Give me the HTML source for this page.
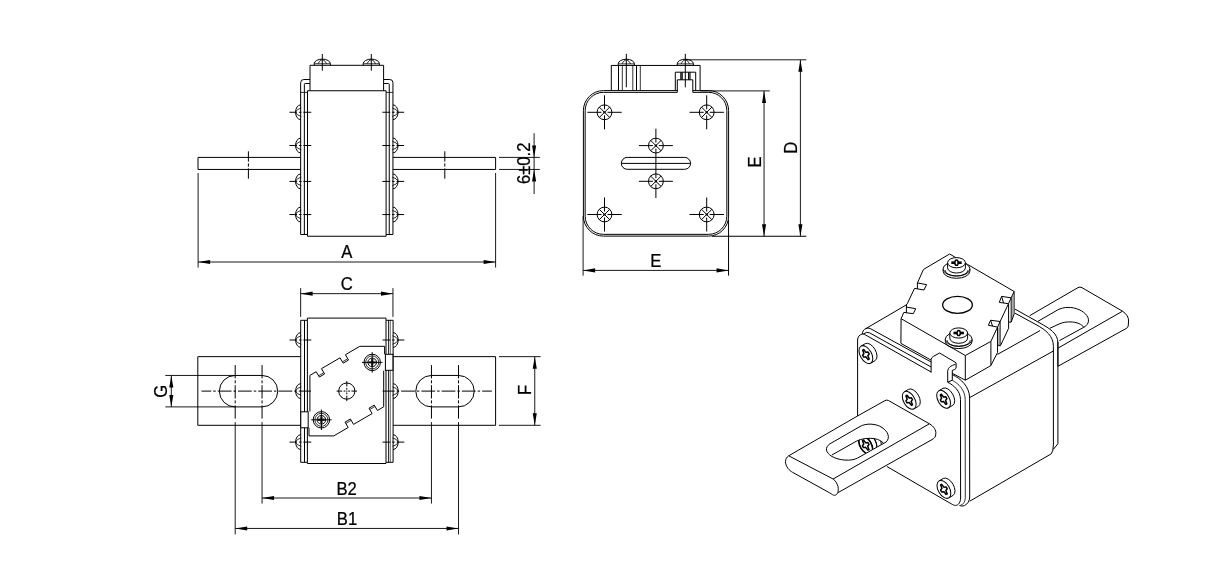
<!DOCTYPE html>
<html lang="en">
<head>
<meta charset="utf-8">
<title>Fuse dimension drawing</title>
<style>
html,body{margin:0;padding:0;background:#fff;}
body{width:1219px;height:568px;overflow:hidden;}
svg{display:block;filter:grayscale(1);}
svg text{font-family:"Liberation Sans",sans-serif;font-size:17.7px;fill:#000;stroke:#000;stroke-width:0.25px;}
.o{fill:none;stroke:#000;stroke-width:1;}
.d{fill:none;stroke:#000;stroke-width:0.9;}
.c{fill:none;stroke:#000;stroke-width:0.8;}
.w{fill:#fff;stroke:#000;stroke-width:1;}
.a{fill:#000;stroke:none;}
</style>
</head>
<body>
<svg width="1219" height="568" viewBox="0 0 1219 568">
<rect x="0" y="0" width="1219" height="568" fill="#fff"/>
<g>
<path class="o" d="M300.65 157.4 L198 157.4 L198 169.45 L300.65 169.45"/>
<path class="o" d="M392.95 157.4 L495.6 157.4 L495.6 169.45 L392.95 169.45"/>
<line class="o" x1="248.4" y1="151.3" x2="248.4" y2="161.6"/>
<line class="o" x1="248.4" y1="163.4" x2="248.4" y2="166.6"/>
<line class="o" x1="248.4" y1="168.4" x2="248.4" y2="178.7"/>
<line class="o" x1="444.8" y1="151.3" x2="444.8" y2="161.6"/>
<line class="o" x1="444.8" y1="163.4" x2="444.8" y2="166.6"/>
<line class="o" x1="444.8" y1="168.4" x2="444.8" y2="178.7"/>
<path class="o" d="M307.5 90.75 L307.5 236.25 L386.1 236.25 L386.1 90.75"/>
<path class="o" d="M310 79.5 L303.85 79.5 A3.2 3.2 0 0 0 300.65 82.7 L300.65 234.5 L307.5 234.5"/>
<path class="o" d="M310 83.5 L305.15 83.5 Q304.35 83.5 304.35 84.3 L304.35 234.5"/>
<line class="c" x1="300.65" y1="92.4" x2="307.5" y2="92.4"/>
<path class="o" d="M383.6 79.5 L389.75 79.5 A3.2 3.2 0 0 1 392.95 82.7 L392.95 234.5 L386.1 234.5"/>
<path class="o" d="M383.6 83.5 L388.45 83.5 Q389.25 83.5 389.25 84.3 L389.25 234.5"/>
<line class="c" x1="392.95" y1="92.4" x2="386.1" y2="92.4"/>
<path class="o" d="M310 90.75 L310 65.3 L383.6 65.3 L383.6 90.75"/>
<line class="o" x1="307.5" y1="90.75" x2="386.1" y2="90.75" style="stroke-width:1.1"/>
<path class="o" d="M314.2 65.3 L314.2 63.75 A8.1 4.65 0 0 1 330.4 63.75 L330.4 65.3"/>
<line class="c" x1="314.2" y1="63.75" x2="330.4" y2="63.75"/>
<path class="c" d="M322.3 59.5 Q319.1 60.7 318 63.75"/>
<path class="c" d="M322.3 59.5 Q325.5 60.7 326.6 63.75"/>
<line class="o" x1="322.3" y1="54" x2="322.3" y2="70.7"/>
<path class="o" d="M363.2 65.3 L363.2 63.75 A8.1 4.65 0 0 1 379.4 63.75 L379.4 65.3"/>
<line class="c" x1="363.2" y1="63.75" x2="379.4" y2="63.75"/>
<path class="c" d="M371.3 59.5 Q368.1 60.7 367 63.75"/>
<path class="c" d="M371.3 59.5 Q374.5 60.7 375.6 63.75"/>
<line class="o" x1="371.3" y1="54" x2="371.3" y2="70.7"/>
<path class="o" d="M300.65 104.85 A5.1 7.4 0 0 0 300.65 119.65"/>
<path class="c" d="M295.35 112.25 Q296.85 109.05 301.25 108.05"/>
<path class="c" d="M295.35 112.25 Q296.85 115.45 301.25 116.45"/>
<line class="o" x1="289.45" y1="112.25" x2="297.05" y2="112.25"/>
<line class="o" x1="299.05" y1="112.25" x2="301.55" y2="112.25"/>
<line class="o" x1="303.35" y1="112.25" x2="311.25" y2="112.25"/>
<path class="o" d="M392.95 104.85 A5.1 7.4 0 0 1 392.95 119.65"/>
<path class="c" d="M398.25 112.25 Q396.75 109.05 392.35 108.05"/>
<path class="c" d="M398.25 112.25 Q396.75 115.45 392.35 116.45"/>
<line class="o" x1="404.15" y1="112.25" x2="396.55" y2="112.25"/>
<line class="o" x1="394.55" y1="112.25" x2="392.05" y2="112.25"/>
<line class="o" x1="390.25" y1="112.25" x2="382.35" y2="112.25"/>
<path class="o" d="M300.65 138.1 A5.1 7.4 0 0 0 300.65 152.9"/>
<path class="c" d="M295.35 145.5 Q296.85 142.3 301.25 141.3"/>
<path class="c" d="M295.35 145.5 Q296.85 148.7 301.25 149.7"/>
<line class="o" x1="289.45" y1="145.5" x2="297.05" y2="145.5"/>
<line class="o" x1="299.05" y1="145.5" x2="301.55" y2="145.5"/>
<line class="o" x1="303.35" y1="145.5" x2="311.25" y2="145.5"/>
<path class="o" d="M392.95 138.1 A5.1 7.4 0 0 1 392.95 152.9"/>
<path class="c" d="M398.25 145.5 Q396.75 142.3 392.35 141.3"/>
<path class="c" d="M398.25 145.5 Q396.75 148.7 392.35 149.7"/>
<line class="o" x1="404.15" y1="145.5" x2="396.55" y2="145.5"/>
<line class="o" x1="394.55" y1="145.5" x2="392.05" y2="145.5"/>
<line class="o" x1="390.25" y1="145.5" x2="382.35" y2="145.5"/>
<path class="o" d="M300.65 174 A5.1 7.4 0 0 0 300.65 188.8"/>
<path class="c" d="M295.35 181.4 Q296.85 178.2 301.25 177.2"/>
<path class="c" d="M295.35 181.4 Q296.85 184.6 301.25 185.6"/>
<line class="o" x1="289.45" y1="181.4" x2="297.05" y2="181.4"/>
<line class="o" x1="299.05" y1="181.4" x2="301.55" y2="181.4"/>
<line class="o" x1="303.35" y1="181.4" x2="311.25" y2="181.4"/>
<path class="o" d="M392.95 174 A5.1 7.4 0 0 1 392.95 188.8"/>
<path class="c" d="M398.25 181.4 Q396.75 178.2 392.35 177.2"/>
<path class="c" d="M398.25 181.4 Q396.75 184.6 392.35 185.6"/>
<line class="o" x1="404.15" y1="181.4" x2="396.55" y2="181.4"/>
<line class="o" x1="394.55" y1="181.4" x2="392.05" y2="181.4"/>
<line class="o" x1="390.25" y1="181.4" x2="382.35" y2="181.4"/>
<path class="o" d="M300.65 207.15 A5.1 7.4 0 0 0 300.65 221.95"/>
<path class="c" d="M295.35 214.55 Q296.85 211.35 301.25 210.35"/>
<path class="c" d="M295.35 214.55 Q296.85 217.75 301.25 218.75"/>
<line class="o" x1="289.45" y1="214.55" x2="297.05" y2="214.55"/>
<line class="o" x1="299.05" y1="214.55" x2="301.55" y2="214.55"/>
<line class="o" x1="303.35" y1="214.55" x2="311.25" y2="214.55"/>
<path class="o" d="M392.95 207.15 A5.1 7.4 0 0 1 392.95 221.95"/>
<path class="c" d="M398.25 214.55 Q396.75 211.35 392.35 210.35"/>
<path class="c" d="M398.25 214.55 Q396.75 217.75 392.35 218.75"/>
<line class="o" x1="404.15" y1="214.55" x2="396.55" y2="214.55"/>
<line class="o" x1="394.55" y1="214.55" x2="392.05" y2="214.55"/>
<line class="o" x1="390.25" y1="214.55" x2="382.35" y2="214.55"/>
<line class="d" x1="198.1" y1="173" x2="198.1" y2="267.6"/>
<line class="d" x1="495.6" y1="173" x2="495.6" y2="267.6"/>
<line class="d" x1="198.1" y1="262" x2="495.6" y2="262"/><polygon class="a" points="198.1,262 210.1,259.95 210.1,264.05"/><polygon class="a" points="495.6,262 483.6,264.05 483.6,259.95"/>
<text x="0" y="0" text-anchor="middle" transform="translate(346.8 258.3) scale(0.94 1)">A</text>
<line class="d" x1="499" y1="157.4" x2="539.8" y2="157.4"/>
<line class="d" x1="499" y1="169.45" x2="539.8" y2="169.45"/>
<line class="d" x1="534.1" y1="133.2" x2="534.1" y2="194"/>
<polygon class="a" points="534.1,157.4 532.05,145.4 536.15,145.4"/>
<polygon class="a" points="534.1,169.45 536.15,181.45 532.05,181.45"/>
<text x="0" y="0" text-anchor="middle" transform="translate(530 163.3) rotate(-90) scale(0.94 1)">6±0.2</text>
</g>
<g>
<path class="o" d="M692.8 90.6 L708.6 90.6 A20 20 0 0 1 728.6 110.6 L728.6 216.1 A20 20 0 0 1 708.6 236.1 L603.4 236.1 A20 20 0 0 1 583.4 216.1 L583.4 110.6 A20 20 0 0 1 603.4 90.6 L677.3 90.6"/>
<path class="o" d="M692.8 92.35 L708.6 92.35 A18.25 18.25 0 0 1 726.85 110.6 L726.85 216.1 A18.25 18.25 0 0 1 708.6 234.35 L603.4 234.35 A18.25 18.25 0 0 1 585.15 216.1 L585.15 110.6 A18.25 18.25 0 0 1 603.4 92.35 L677.3 92.35"/>
<path class="o" d="M611.3 90.6 L611.3 65.45 L700.1 65.45 L700.1 90.6"/>
<line class="o" x1="618.5" y1="65.45" x2="618.5" y2="90.6"/>
<line class="c" x1="622.3" y1="65.45" x2="622.3" y2="90.6"/>
<line class="c" x1="632.8" y1="65.45" x2="632.8" y2="90.6"/>
<line class="o" x1="636.5" y1="65.45" x2="636.5" y2="90.6"/>
<line class="c" x1="640.3" y1="65.45" x2="640.3" y2="90.6"/>
<path class="o" d="M675.3 90.6 L675.3 72.2 L695.7 72.2 L695.7 90.6"/>
<path class="o" d="M677.3 92.35 L677.3 79.8 L692.8 79.8 L692.8 92.35"/>
<line class="o" x1="682" y1="72.2" x2="682" y2="79.8" style="stroke-width:1.5"/>
<line class="o" x1="688.8" y1="72.2" x2="688.8" y2="79.8" style="stroke-width:1.5"/>
<line class="c" x1="680.6" y1="72.2" x2="680.6" y2="79.8"/>
<line class="c" x1="690.2" y1="72.2" x2="690.2" y2="79.8"/>
<path class="o" d="M618.2 65.45 L618.2 63.9 A8.1 4.7 0 0 1 634.4 63.9 L634.4 65.45"/>
<line class="c" x1="618.2" y1="63.9" x2="634.4" y2="63.9"/>
<path class="c" d="M626.3 59.6 Q623.1 60.8 622 63.9"/>
<path class="c" d="M626.3 59.6 Q629.5 60.8 630.6 63.9"/>
<line class="o" x1="626.3" y1="53.8" x2="626.3" y2="87.3"/>
<path class="o" d="M677.2 65.45 L677.2 63.9 A8.1 4.7 0 0 1 693.4 63.9 L693.4 65.45"/>
<line class="c" x1="677.2" y1="63.9" x2="693.4" y2="63.9"/>
<path class="c" d="M685.3 59.6 Q682.1 60.8 681 63.9"/>
<path class="c" d="M685.3 59.6 Q688.5 60.8 689.6 63.9"/>
<line class="o" x1="685.3" y1="53.8" x2="685.3" y2="87.3"/>
<circle class="o" cx="604.5" cy="112.3" r="7.4"/>
<line class="o" x1="599.27" y1="107.07" x2="609.73" y2="117.53"/>
<line class="o" x1="599.27" y1="117.53" x2="609.73" y2="107.07"/>
<line class="o" x1="587.3" y1="112.3" x2="601.5" y2="112.3"/>
<line class="o" x1="607.5" y1="112.3" x2="621.7" y2="112.3"/>
<line class="o" x1="604.5" y1="95.3" x2="604.5" y2="109.3"/>
<line class="o" x1="604.5" y1="115.3" x2="604.5" y2="129.3"/>
<line class="o" x1="603.4" y1="112.3" x2="605.6" y2="112.3" style="stroke-width:2"/>
<circle class="o" cx="604.5" cy="214.5" r="7.4"/>
<line class="o" x1="599.27" y1="209.27" x2="609.73" y2="219.73"/>
<line class="o" x1="599.27" y1="219.73" x2="609.73" y2="209.27"/>
<line class="o" x1="587.3" y1="214.5" x2="601.5" y2="214.5"/>
<line class="o" x1="607.5" y1="214.5" x2="621.7" y2="214.5"/>
<line class="o" x1="604.5" y1="197.5" x2="604.5" y2="211.5"/>
<line class="o" x1="604.5" y1="217.5" x2="604.5" y2="231.5"/>
<line class="o" x1="603.4" y1="214.5" x2="605.6" y2="214.5" style="stroke-width:2"/>
<circle class="o" cx="706.7" cy="112.3" r="7.4"/>
<line class="o" x1="701.47" y1="107.07" x2="711.93" y2="117.53"/>
<line class="o" x1="701.47" y1="117.53" x2="711.93" y2="107.07"/>
<line class="o" x1="689.5" y1="112.3" x2="703.7" y2="112.3"/>
<line class="o" x1="709.7" y1="112.3" x2="723.9" y2="112.3"/>
<line class="o" x1="706.7" y1="95.3" x2="706.7" y2="109.3"/>
<line class="o" x1="706.7" y1="115.3" x2="706.7" y2="129.3"/>
<line class="o" x1="705.6" y1="112.3" x2="707.8" y2="112.3" style="stroke-width:2"/>
<circle class="o" cx="706.7" cy="214.5" r="7.4"/>
<line class="o" x1="701.47" y1="209.27" x2="711.93" y2="219.73"/>
<line class="o" x1="701.47" y1="219.73" x2="711.93" y2="209.27"/>
<line class="o" x1="689.5" y1="214.5" x2="703.7" y2="214.5"/>
<line class="o" x1="709.7" y1="214.5" x2="723.9" y2="214.5"/>
<line class="o" x1="706.7" y1="197.5" x2="706.7" y2="211.5"/>
<line class="o" x1="706.7" y1="217.5" x2="706.7" y2="231.5"/>
<line class="o" x1="705.6" y1="214.5" x2="707.8" y2="214.5" style="stroke-width:2"/>
<circle class="o" cx="655.9" cy="145.6" r="7.4"/>
<line class="o" x1="650.67" y1="140.37" x2="661.13" y2="150.83"/>
<line class="o" x1="650.67" y1="150.83" x2="661.13" y2="140.37"/>
<line class="o" x1="638.9" y1="145.6" x2="652.9" y2="145.6"/>
<line class="o" x1="658.9" y1="145.6" x2="672.9" y2="145.6"/>
<line class="o" x1="654.8" y1="145.6" x2="657" y2="145.6" style="stroke-width:2"/>
<circle class="o" cx="655.9" cy="181.3" r="7.4"/>
<line class="o" x1="650.67" y1="176.07" x2="661.13" y2="186.53"/>
<line class="o" x1="650.67" y1="186.53" x2="661.13" y2="176.07"/>
<line class="o" x1="638.9" y1="181.3" x2="652.9" y2="181.3"/>
<line class="o" x1="658.9" y1="181.3" x2="672.9" y2="181.3"/>
<line class="o" x1="654.8" y1="181.3" x2="657" y2="181.3" style="stroke-width:2"/>
<line class="o" x1="655.9" y1="128.7" x2="655.9" y2="142.6"/>
<line class="o" x1="655.9" y1="148.6" x2="655.9" y2="178.3"/>
<line class="o" x1="655.9" y1="184.3" x2="655.9" y2="198"/>
<rect class="o" x="621.3" y="157.4" width="69.3" height="11.9" rx="5.95"/>
<line class="o" x1="621.3" y1="163.4" x2="690.6" y2="163.4"/>
<line class="d" x1="686" y1="59.8" x2="806.3" y2="59.8"/>
<line class="d" x1="700.1" y1="90.9" x2="769.8" y2="90.9"/>
<line class="o" x1="712" y1="236.25" x2="806.3" y2="236.25"/>
<line class="d" x1="764.05" y1="90.9" x2="764.05" y2="236.25"/><polygon class="a" points="764.05,90.9 766.1,102.9 762,102.9"/><polygon class="a" points="764.05,236.25 762,224.25 766.1,224.25"/>
<line class="d" x1="800.4" y1="59.8" x2="800.4" y2="236.25"/><polygon class="a" points="800.4,59.8 802.45,71.8 798.35,71.8"/><polygon class="a" points="800.4,236.25 798.35,224.25 802.45,224.25"/>
<text x="0" y="0" text-anchor="middle" transform="translate(760.9 161.9) rotate(-90) scale(0.94 1)">E</text>
<text x="0" y="0" text-anchor="middle" transform="translate(797.2 147.8) rotate(-90) scale(0.94 1)">D</text>
<line class="d" x1="583.1" y1="216" x2="583.1" y2="275.6"/>
<line class="o" x1="728.55" y1="220" x2="728.55" y2="275.6"/>
<line class="d" x1="583.1" y1="270.4" x2="728.55" y2="270.4"/><polygon class="a" points="583.1,270.4 595.1,268.35 595.1,272.45"/><polygon class="a" points="728.55,270.4 716.55,272.45 716.55,268.35"/>
<text x="0" y="0" text-anchor="middle" transform="translate(655.8 267) scale(0.94 1)">E</text>
</g>
<g>
<path class="o" d="M300.7 356.65 L197.8 356.65 L197.8 425.3 L300.7 425.3"/>
<path class="o" d="M393.1 356.65 L495.6 356.65 L495.6 425.3 L393.1 425.3"/>
<path class="o" d="M235.1 375.45 L262 375.45 A15.72 15.72 0 0 1 262 406.9 L235.1 406.9 A15.72 15.72 0 0 1 235.1 375.45 Z"/>
<path class="o" d="M431.5 375.45 L458.5 375.45 A15.72 15.72 0 0 1 458.5 406.9 L431.5 406.9 A15.72 15.72 0 0 1 431.5 375.45 Z"/>
<line class="o" x1="201.5" y1="391.1" x2="311" y2="391.1" stroke-dasharray="13.75 2 2.5 2" stroke-dashoffset="4"/>
<line class="o" x1="491.9" y1="391.1" x2="382.6" y2="391.1" stroke-dasharray="13.75 2 2.5 2" stroke-dashoffset="4"/>
<line class="o" x1="235.2" y1="365.1" x2="235.2" y2="420" stroke-dasharray="13.3 1.9 3 1.9" stroke-dashoffset="0"/>
<line class="d" x1="235.2" y1="422.1" x2="235.2" y2="534.4"/>
<line class="o" x1="262.05" y1="365.1" x2="262.05" y2="420" stroke-dasharray="13.3 1.9 3 1.9" stroke-dashoffset="0"/>
<line class="d" x1="262.05" y1="422.1" x2="262.05" y2="503.6"/>
<line class="o" x1="431.45" y1="365.1" x2="431.45" y2="420" stroke-dasharray="13.3 1.9 3 1.9" stroke-dashoffset="0"/>
<line class="d" x1="431.45" y1="422.1" x2="431.45" y2="503.6"/>
<line class="o" x1="458.5" y1="365.1" x2="458.5" y2="420" stroke-dasharray="13.3 1.9 3 1.9" stroke-dashoffset="0"/>
<line class="d" x1="458.5" y1="422.1" x2="458.5" y2="534.4"/>
<path class="o" d="M307.4 320.3 L307.4 318.1 L386 318.1 L386 320.3"/>
<path class="o" d="M307.4 462.3 L307.4 463.5 L386 463.5 L386 462.3"/>
<line class="o" x1="307.4" y1="320.3" x2="307.4" y2="462.3"/>
<line class="o" x1="386" y1="320.3" x2="386" y2="462.3"/>
<path class="o" d="M300.7 320.3 L300.7 462.3 L307.4 462.3"/>
<line class="o" x1="300.7" y1="320.3" x2="307.4" y2="320.3"/>
<line class="o" x1="304.5" y1="320.3" x2="304.5" y2="462.3"/>
<path class="o" d="M393.1 320.3 L393.1 462.3 L386 462.3"/>
<line class="o" x1="393.1" y1="320.3" x2="386" y2="320.3"/>
<line class="o" x1="388.7" y1="320.3" x2="388.7" y2="462.3"/>
<line class="c" x1="390.5" y1="320.3" x2="390.5" y2="462.3" stroke-opacity="0.6"/>
<path class="o" d="M300.7 332.6 A5.1 7.4 0 0 0 300.7 347.4"/>
<path class="c" d="M295.4 340 Q296.9 336.8 301.3 335.8"/>
<path class="c" d="M295.4 340 Q296.9 343.2 301.3 344.2"/>
<line class="o" x1="289.5" y1="340" x2="297.1" y2="340"/>
<line class="o" x1="299.1" y1="340" x2="301.6" y2="340"/>
<line class="o" x1="303.4" y1="340" x2="311.3" y2="340"/>
<path class="o" d="M393.1 332.6 A5.1 7.4 0 0 1 393.1 347.4"/>
<path class="c" d="M398.4 340 Q396.9 336.8 392.5 335.8"/>
<path class="c" d="M398.4 340 Q396.9 343.2 392.5 344.2"/>
<line class="o" x1="404.3" y1="340" x2="396.7" y2="340"/>
<line class="o" x1="394.7" y1="340" x2="392.2" y2="340"/>
<line class="o" x1="390.4" y1="340" x2="382.5" y2="340"/>
<path class="o" d="M300.7 383.7 A5.1 7.4 0 0 0 300.7 398.5"/>
<path class="c" d="M295.4 391.1 Q296.9 387.9 301.3 386.9"/>
<path class="c" d="M295.4 391.1 Q296.9 394.3 301.3 395.3"/>
<path class="o" d="M393.1 383.7 A5.1 7.4 0 0 1 393.1 398.5"/>
<path class="c" d="M398.4 391.1 Q396.9 387.9 392.5 386.9"/>
<path class="c" d="M398.4 391.1 Q396.9 394.3 392.5 395.3"/>
<path class="o" d="M300.7 434.7 A5.1 7.4 0 0 0 300.7 449.5"/>
<path class="c" d="M295.4 442.1 Q296.9 438.9 301.3 437.9"/>
<path class="c" d="M295.4 442.1 Q296.9 445.3 301.3 446.3"/>
<line class="o" x1="289.5" y1="442.1" x2="297.1" y2="442.1"/>
<line class="o" x1="299.1" y1="442.1" x2="301.6" y2="442.1"/>
<line class="o" x1="303.4" y1="442.1" x2="311.3" y2="442.1"/>
<path class="o" d="M393.1 434.7 A5.1 7.4 0 0 1 393.1 449.5"/>
<path class="c" d="M398.4 442.1 Q396.9 438.9 392.5 437.9"/>
<path class="c" d="M398.4 442.1 Q396.9 445.3 392.5 446.3"/>
<line class="o" x1="404.3" y1="442.1" x2="396.7" y2="442.1"/>
<line class="o" x1="394.7" y1="442.1" x2="392.2" y2="442.1"/>
<line class="o" x1="390.4" y1="442.1" x2="382.5" y2="442.1"/>
<rect class="w" x="300.8" y="411.8" width="7.4" height="16"/>
<rect class="w" x="385.4" y="354.3" width="7.5" height="16"/>
<path class="o" d="M384.6 354.3 L384.6 346.3 L359.85 346.3 L345.42 354.7 L348.54 360.06 L343.18 363.18 L340.06 357.82 L321.48 368.63 L324.59 373.99 L319.32 377.06 L316.2 371.7 L309.9 375.4 L309.9 411.5"/>
<path class="o" d="M309 427.9 L309 435.9 L333.75 435.9 L348.18 427.5 L345.06 422.14 L350.42 419.02 L353.54 424.38 L372.12 413.57 L369.01 408.21 L374.28 405.14 L377.4 410.5 L383.7 406.8 L383.7 370.7"/>
<line class="c" x1="347.52" y1="358.91" x2="342.68" y2="361.73"/>
<line class="c" x1="346.08" y1="423.29" x2="350.92" y2="420.47"/>
<line class="c" x1="323.58" y1="372.85" x2="318.83" y2="375.61"/>
<line class="c" x1="370.02" y1="409.35" x2="374.77" y2="406.59"/>
<circle class="o" cx="346.8" cy="391.1" r="8.1"/>
<line class="o" x1="336.6" y1="391.1" x2="342.2" y2="391.1"/>
<line class="o" x1="343.6" y1="391.1" x2="345.4" y2="391.1"/>
<line class="o" x1="357" y1="391.1" x2="351.4" y2="391.1"/>
<line class="o" x1="350" y1="391.1" x2="348.2" y2="391.1"/>
<line class="o" x1="346.8" y1="381.1" x2="346.8" y2="386.5"/>
<line class="o" x1="346.8" y1="387.9" x2="346.8" y2="389.7"/>
<line class="o" x1="346.8" y1="401.1" x2="346.8" y2="395.7"/>
<line class="o" x1="346.8" y1="394.3" x2="346.8" y2="392.5"/>
<line class="o" x1="346.2" y1="391.1" x2="347.4" y2="391.1"/>
<circle class="o" cx="372.2" cy="362.4" r="8.2"/>
<circle class="c" cx="372.2" cy="362.4" r="6.5"/>
<circle class="o" cx="372.2" cy="362.4" r="4.3"/>
<path class="a" d="M368.8 361.2 h2.2 v-2.2 h2.4 v2.2 h2.2 v2.4 h-2.2 v2.2 h-2.4 v-2.2 h-2.2 Z" fill-opacity="0.8"/>
<line class="o" x1="362" y1="362.4" x2="382.4" y2="362.4"/>
<line class="o" x1="372.2" y1="352.2" x2="372.2" y2="372.6"/>
<circle class="o" cx="321.4" cy="419.8" r="8.2"/>
<circle class="c" cx="321.4" cy="419.8" r="6.5"/>
<circle class="o" cx="321.4" cy="419.8" r="4.3"/>
<path class="a" d="M318 418.6 h2.2 v-2.2 h2.4 v2.2 h2.2 v2.4 h-2.2 v2.2 h-2.4 v-2.2 h-2.2 Z" fill-opacity="0.8"/>
<line class="o" x1="311.2" y1="419.8" x2="331.6" y2="419.8"/>
<line class="o" x1="321.4" y1="409.6" x2="321.4" y2="430"/>
<line class="d" x1="300.65" y1="288.1" x2="300.65" y2="316.9"/>
<line class="d" x1="392.95" y1="288.1" x2="392.95" y2="316.9"/>
<line class="d" x1="300.65" y1="293.65" x2="392.95" y2="293.65"/><polygon class="a" points="300.65,293.65 312.65,291.6 312.65,295.7"/><polygon class="a" points="392.95,293.65 380.95,295.7 380.95,291.6"/>
<text x="0" y="0" text-anchor="middle" transform="translate(346.7 290) scale(0.94 1)">C</text>
<line class="d" x1="165.3" y1="375.45" x2="235.1" y2="375.45"/>
<line class="d" x1="165.3" y1="406.9" x2="235.1" y2="406.9"/>
<line class="d" x1="171.3" y1="375.45" x2="171.3" y2="406.9"/><polygon class="a" points="171.3,375.45 173.35,387.45 169.25,387.45"/><polygon class="a" points="171.3,406.9 169.25,394.9 173.35,394.9"/>
<text x="0" y="0" text-anchor="middle" transform="translate(167.2 391.2) rotate(-90) scale(0.94 1)">G</text>
<line class="d" x1="499" y1="356.65" x2="540.6" y2="356.65"/>
<line class="d" x1="499" y1="425.3" x2="540.6" y2="425.3"/>
<line class="d" x1="534.75" y1="356.65" x2="534.75" y2="425.3"/><polygon class="a" points="534.75,356.65 536.8,368.65 532.7,368.65"/><polygon class="a" points="534.75,425.3 532.7,413.3 536.8,413.3"/>
<text x="0" y="0" text-anchor="middle" transform="translate(531.3 390) rotate(-90) scale(0.94 1)">F</text>
<line class="d" x1="262.05" y1="498" x2="431.45" y2="498"/><polygon class="a" points="262.05,498 274.05,495.95 274.05,500.05"/><polygon class="a" points="431.45,498 419.45,500.05 419.45,495.95"/>
<text x="0" y="0" text-anchor="middle" transform="translate(346.7 494.6) scale(0.94 1)">B2</text>
<line class="d" x1="235.2" y1="528.45" x2="458.5" y2="528.45"/><polygon class="a" points="235.2,528.45 247.2,526.4 247.2,530.5"/><polygon class="a" points="458.5,528.45 446.5,530.5 446.5,526.4"/>
<text x="0" y="0" text-anchor="middle" transform="translate(347 525) scale(0.94 1)">B1</text>
</g>
<g>
<path class="w" d="M1029.8 315.6 L1078 287.6 Q1080 286.5 1082 287.7 L1122.5 311.2 Q1128.8 315.5 1128.6 321 L1128.2 326 Q1128 327.6 1126 328.6 L1057.9 366.3 L1057.9 342"/>
<line class="o" x1="1122.5" y1="311.2" x2="1057.9" y2="348.2"/>
<path class="o" d="M1038 321.3 L1057.5 310 C1064 306.6 1072 306.6 1079 309.6 C1086 312.8 1090 318 1088 323 C1087.2 325 1085.6 326.2 1083.8 327.3 L1059.4 340.6"/>
<path class="o" d="M1050 328.2 L1060 323.6 C1066 321.2 1074 321.4 1079 323.6 C1081.2 324.6 1082.6 325.6 1083.8 327.3"/>
<line class="o" x1="969.3" y1="397.8" x2="1053.4" y2="351"/>
<line class="o" x1="997.5" y1="354.4" x2="1040" y2="330.6"/>
<line class="o" x1="969.75" y1="501.2" x2="1051.3" y2="453.8"/>
<path class="o" d="M1015 309.1 L1040 323.1 C1050 328.6 1057.9 333.5 1057.9 343 L1057.9 443.8 L1053.2 449.5"/>
<path class="o" d="M1015 313.2 L1036 324.6 C1046 330 1053.4 336 1053.4 346.3 L1053.4 445 Q1053.3 451 1051.3 453.8"/>
<path class="o" d="M862.3 334 C862.6 331.5 863.4 330 864.6 329.3 L907.2 304.4"/>
<path class="o" d="M865.8 328.7 Q868 327.4 870.2 328.5 L931.1 362"/>
<path class="o" d="M863.2 334.2 Q866.5 331.2 869.5 332.8 L931.1 367"/>
<path class="o" d="M857.6 416 L857.6 340 C857.6 337 859.5 334.6 862.3 334 C863 333.9 863.6 333.9 864.2 334.2 L931.1 372"/>
<path class="o" d="M947.7 382.2 C954 385.5 960.5 391 960.5 399.7 L960.6 498 C960.6 502 958.6 505.4 955.6 505.4 C954 505.4 952.6 504.6 951.2 503.8 L886.9 466.5"/>
<path class="c" d="M952.2 380.3 C958.5 383.5 965.2 390 965.2 399.7 L965.3 497.5 C965.3 501.5 963.5 504.6 960.4 505.3"/>
<path class="o" d="M952.2 374.6 C961 378.5 969.6 387 969.6 397.8 L969.7 497 C969.7 501 967.5 504.2 964.4 505.6 C962.4 506.3 960.8 506 959.4 505.5"/>
<path class="o" d="M931.1 372.6 L931.1 359.8 Q931.3 357.5 933.3 356.4 L939.6 353 L956.1 362.8 L956.1 368.2 Q955.4 369.6 952.3 370.3 L952.3 380.2 L947.7 382.2 L947.7 371.3 C948 367.5 951 365.5 955.5 364.4"/>
<path class="o" d="M1014.2 291.5 L949.6 254 L923.5 269.4 L917.4 283 L926.6 284.6 L924 290 L914.5 288.4 L907.2 303.9"/>
<line class="o" x1="917.4" y1="283" x2="917.4" y2="289"/>
<line class="o" x1="906.4" y1="304.3" x2="906.4" y2="313"/>
<path class="o" d="M906.4 307.1 L915.7 308.7 L913.3 313.7 L903.8 312.4 L901.1 318.7 L965.3 355.5 L990.9 341.4"/>
<path class="o" d="M901.1 318.7 L900.9 343.4 L931.1 360.1"/>
<path class="o" d="M965.3 355.5 L965.3 380.2 L990.9 365.6 L990.9 341.4"/>
<line class="o" x1="952.3" y1="373.3" x2="965.3" y2="380.2"/>
<line class="o" x1="1014.2" y1="291.5" x2="1011.1" y2="297.8"/>
<path class="o" d="M1014.1 291.5 L1014.1 314 L1011.2 322.1 L1008.65 322.1"/>
<line class="o" x1="1011.2" y1="297.8" x2="1011.2" y2="322.1"/>
<line class="c" x1="1012.6" y1="296" x2="1012.6" y2="317.5" stroke-opacity="0.45"/>
<path class="o" d="M1001.6 296.4 L1011.1 297.8 L1008.5 303.7 L999.3 302.4 Z"/>
<line class="o" x1="1001.6" y1="296.4" x2="1003.5" y2="302.9"/>
<line class="o" x1="1008.6" y1="303.7" x2="1008.6" y2="328.2"/>
<line class="o" x1="1008.5" y1="303.7" x2="1000.1" y2="321.5"/>
<path class="o" d="M990.6 320.25 L1000.1 321.5 L997.55 327.1 L988.4 325.3 Z"/>
<line class="o" x1="990.6" y1="320.25" x2="992.5" y2="326"/>
<line class="o" x1="1000.1" y1="321.5" x2="1000.1" y2="345.6"/>
<line class="o" x1="997.55" y1="327.1" x2="997.55" y2="352.5"/>
<line class="c" x1="998.8" y1="327.5" x2="998.8" y2="345.2" stroke-opacity="0.45"/>
<line class="o" x1="997.55" y1="345" x2="1000.4" y2="345.9"/>
<line class="o" x1="1008.65" y1="328.2" x2="1000.5" y2="345.6"/>
<line class="o" x1="997.55" y1="327.1" x2="990.9" y2="341.4"/>
<line class="o" x1="997.55" y1="352.5" x2="990.9" y2="365.4"/>
<ellipse class="o" cx="957.5" cy="304.9" rx="14.85" ry="8.5" style="stroke-width:1.3"/>
<path class="o" d="M943.1 268.9 L943.1 271.1 A13.4 7.2 0 0 0 969.9 271.1 L969.9 268.9"/>
<ellipse class="w" cx="956.5" cy="268.9" rx="13.4" ry="7.2"/>
<path class="c" d="M944.9 269.9 A11.6 6.0 0 0 0 968.1 269.9"/>
<path class="w" d="M947.6 262.7 L947.6 267.9 A8.9 5.1 0 0 0 965.4 267.9 L965.4 262.7"/>
<ellipse class="w" cx="956.5" cy="262.7" rx="8.9" ry="5.1"/>
<line class="o" x1="951.3" y1="262.7" x2="961.7" y2="262.7" style="stroke-width:2.6"/>
<ellipse class="w" cx="956.5" cy="262.7" rx="1.6" ry="2.6" style="stroke-width:1.5"/>
<path class="o" d="M945.3 339.2 L945.3 341.4 A13.4 7.2 0 0 0 972.1 341.4 L972.1 339.2"/>
<ellipse class="w" cx="958.7" cy="339.2" rx="13.4" ry="7.2"/>
<path class="c" d="M947.1 340.2 A11.6 6.0 0 0 0 970.3 340.2"/>
<path class="w" d="M949.8 333 L949.8 338.2 A8.9 5.1 0 0 0 967.6 338.2 L967.6 333"/>
<ellipse class="w" cx="958.7" cy="333" rx="8.9" ry="5.1"/>
<line class="o" x1="953.5" y1="333" x2="963.9" y2="333" style="stroke-width:2.6"/>
<ellipse class="w" cx="958.7" cy="333" rx="1.6" ry="2.6" style="stroke-width:1.5"/>
<path class="w" d="M857.5 416 L885 400.6 Q886.8 399.5 888.6 400.6 L929.4 423.8 C934 426.5 936.2 430 935.8 434 C935.6 437 934.5 438.2 932 439.6 L838.1 492.6"/>
<line class="o" x1="929.4" y1="423.8" x2="833.1" y2="479"/>
<path class="w" d="M857.5 416 L788.7 455.8 C784.5 458.5 784.6 464 788 468.4 C789.4 470.2 790.8 471.3 792.5 472.3 L829.6 492.8 C832 494.2 833 495.3 834.4 495.3 C837.4 495.4 839 491 838 486.6 C837.2 483.6 835.6 480.6 833.1 479 L788.7 455.8"/>
<clipPath id="slotclip"><path d="M853 443.2 L858 440.4 C861 438.6 869 437.6 875 438.75 C878.5 439.5 881.5 441 883.6 443.2 L884.4 442.6 L857 458 L853 460 Z"/></clipPath>
<g clip-path="url(#slotclip)">
<ellipse class="w" cx="874.36" cy="440.1" rx="9.8" ry="5.66" transform="rotate(60 874.36 440.1)"/>
<ellipse class="w" cx="870.03" cy="442.6" rx="9.8" ry="5.66" transform="rotate(60 870.03 442.6)"/>
<path class="o" d="M865.13 434.12 A9.8 5.66 60 0 1 874.93 451.08"/>
<line class="o" x1="860.8" y1="436.62" x2="865.13" y2="434.12"/>
<line class="o" x1="870.6" y1="453.58" x2="874.93" y2="451.08"/>
<ellipse class="w" cx="865.7" cy="445.1" rx="9.8" ry="5.66" transform="rotate(60 865.7 445.1)"/>
<path class="w" d="M863.5 440.04 L865.7 442.84 L867.9 442.58 L868.98 444.45 L867.66 446.23 L868.98 449.54 L867.9 450.16 L865.7 447.36 L863.5 447.62 L862.42 445.75 L863.74 443.97 L862.42 440.66 Z" style="stroke-width:1.5;stroke-linejoin:round"/>
<ellipse class="o" cx="865.7" cy="445.1" rx="9.8" ry="5.66" transform="rotate(60 865.7 445.1)" style="stroke-width:1.5"/>
</g>
<path class="o" d="M830 443.75 L860 426.5 C866 423 876 423.4 882 427.5 C888 431.5 890.5 437.5 886.25 441.9 L857.5 458.1 C851 461.5 839 460.5 832 456.5 C825.5 452.5 824.5 447.5 830 443.75 Z"/>
<path class="o" d="M831.9 455 L856.25 441.25 C861 438.6 869 437.6 875 438.75 C878.5 439.5 881.5 441 883.6 443.2"/>
<path class="o" d="M865.33 343.62 A9.8 5.66 60 0 1 875.13 360.58"/>
<line class="o" x1="861" y1="346.12" x2="865.33" y2="343.62"/>
<line class="o" x1="870.8" y1="363.08" x2="875.13" y2="360.58"/>
<ellipse class="w" cx="865.9" cy="354.6" rx="9.8" ry="5.66" transform="rotate(60 865.9 354.6)"/>
<path class="w" d="M863.7 349.54 L865.9 352.34 L868.1 352.08 L869.18 353.95 L867.86 355.73 L869.18 359.04 L868.1 359.66 L865.9 356.86 L863.7 357.12 L862.62 355.25 L863.94 353.47 L862.62 350.16 Z" style="stroke-width:1.5;stroke-linejoin:round"/>
<path class="o" d="M908.63 389.32 A9.8 5.66 60 0 1 918.43 406.28"/>
<line class="o" x1="904.3" y1="391.82" x2="908.63" y2="389.32"/>
<line class="o" x1="914.1" y1="408.78" x2="918.43" y2="406.28"/>
<ellipse class="w" cx="909.2" cy="400.3" rx="9.8" ry="5.66" transform="rotate(60 909.2 400.3)"/>
<path class="w" d="M907 395.24 L909.2 398.04 L911.4 397.78 L912.48 399.65 L911.16 401.43 L912.48 404.74 L911.4 405.36 L909.2 402.56 L907 402.82 L905.92 400.95 L907.24 399.17 L905.92 395.86 Z" style="stroke-width:1.5;stroke-linejoin:round"/>
<path class="o" d="M943.03 388.32 A9.8 5.66 60 0 1 952.83 405.28"/>
<line class="o" x1="938.7" y1="390.82" x2="943.03" y2="388.32"/>
<line class="o" x1="948.5" y1="407.78" x2="952.83" y2="405.28"/>
<ellipse class="w" cx="943.6" cy="399.3" rx="9.8" ry="5.66" transform="rotate(60 943.6 399.3)"/>
<path class="w" d="M941.4 394.24 L943.6 397.04 L945.8 396.78 L946.88 398.65 L945.56 400.43 L946.88 403.74 L945.8 404.36 L943.6 401.56 L941.4 401.82 L940.32 399.95 L941.64 398.17 L940.32 394.86 Z" style="stroke-width:1.5;stroke-linejoin:round"/>
<path class="o" d="M943.33 478.42 A9.8 5.66 60 0 1 953.13 495.38"/>
<line class="o" x1="939" y1="480.92" x2="943.33" y2="478.42"/>
<line class="o" x1="948.8" y1="497.88" x2="953.13" y2="495.38"/>
<ellipse class="w" cx="943.9" cy="489.4" rx="9.8" ry="5.66" transform="rotate(60 943.9 489.4)"/>
<path class="w" d="M941.7 484.34 L943.9 487.14 L946.1 486.88 L947.18 488.75 L945.86 490.53 L947.18 493.84 L946.1 494.46 L943.9 491.66 L941.7 491.92 L940.62 490.05 L941.94 488.27 L940.62 484.96 Z" style="stroke-width:1.5;stroke-linejoin:round"/>
</g>
</svg>
</body>
</html>
